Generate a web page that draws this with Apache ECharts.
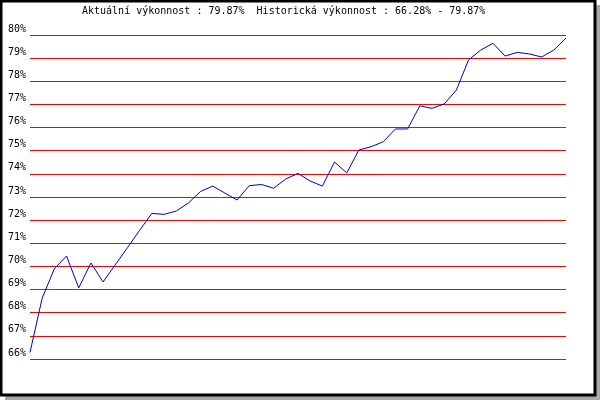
<!DOCTYPE html>
<html>
<head>
<meta charset="utf-8">
<script src="https://cdn.jsdelivr.net/npm/echarts@6/dist/echarts.min.js"></script>
<style>
html,body{margin:0;padding:0;background:#fff;}
#c{width:600px;height:400px;}
</style>
</head>
<body>
<div id="c"></div>
<script>
const titleText = 'Aktuální výkonnost : 79.87%  Historická výkonnost : 66.28% - 79.87%';
const yMin = 66;
const yMax = 80;
const yStep = 1;
const performance = [
  66.28, 68.63, 69.90, 70.45, 69.07, 70.15, 69.33, 70.07, 70.81, 71.56,
  72.29, 72.25, 72.39, 72.74, 73.24, 73.47, 73.17, 72.87, 73.49, 73.54,
  73.38, 73.78, 74.02, 73.69, 73.47, 74.51, 74.04, 75.03, 75.17, 75.39,
  75.94, 75.94, 76.94, 76.83, 77.02, 77.62, 78.92, 79.35, 79.64, 79.09,
  79.25, 79.18, 79.05, 79.35, 79.87
];
const periods = performance.map((_, i) => String(i + 1));

const chart = echarts.init(document.getElementById('c'), null, {renderer: 'canvas'});
const font = '"DejaVu Sans Mono", "Liberation Mono", monospace';
chart.setOption({
  animation: false,
  backgroundColor: '#ffffff',
  graphic: [
    {type: 'rect', z: -100, silent: true, shape: {x: 5, y: 5, width: 595, height: 395}, style: {fill: '#aaaaaa'}},
    {type: 'rect', z: -99, silent: true, shape: {x: 1, y: 1, width: 594, height: 394}, style: {fill: '#ffffff', stroke: '#000000', lineWidth: 3}}
  ],
  title: {
    text: titleText,
    left: 82,
    top: 6,
    padding: 0,
    textStyle: {fontFamily: font, fontSize: 10, fontWeight: 'normal', color: '#000000'}
  },
  grid: {left: 30, right: 34, top: 35, bottom: 41, containLabel: false},
  xAxis: {
    type: 'category',
    data: periods,
    boundaryGap: false,
    show: false
  },
  yAxis: {
    type: 'value',
    min: yMin,
    max: yMax,
    interval: yStep,
    axisLine: {show: false},
    axisTick: {show: false},
    axisLabel: {
      formatter: '{value}%',
      fontFamily: font,
      fontSize: 10,
      color: '#000000',
      margin: 4,
      verticalAlign: 'bottom',
      padding: [0, 0, 1, 0]
    },
    splitLine: {show: true, lineStyle: {color: '#ff0000', width: 1, type: 'solid'}}
  },
  series: [{
    type: 'line',
    data: performance,
    showSymbol: false,
    symbol: 'none',
    lineStyle: {color: '#0000cc', width: 1},
    itemStyle: {color: '#0000cc'}
  }]
});
</script>
</body>
</html>
